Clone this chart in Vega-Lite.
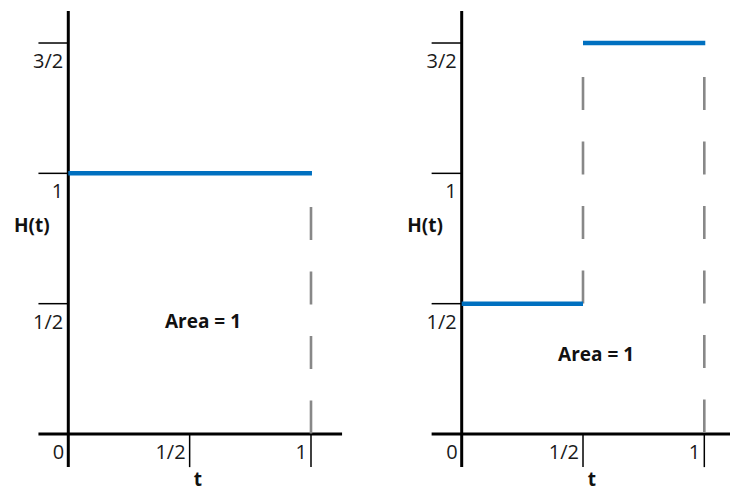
{
  "$schema": "https://vega.github.io/schema/vega-lite/v6.json",
  "padding": 0,
  "spacing": 0,
  "background": "white",
  "config": {"view": {"stroke": null}, "axis": {"disable": true}, "concat": {"spacing": 0}},
  "datasets": {
    "axes": [
      {"panel": "A", "x": 0, "x2": 0, "y": -0.127, "y2": 1.623},
      {"panel": "A", "x": -0.123, "x2": 1.128, "y": 0, "y2": 0},
      {"panel": "B", "x": 0, "x2": 0, "y": -0.127, "y2": 1.623},
      {"panel": "B", "x": -0.124, "x2": 1.11, "y": 0, "y2": 0}
    ],
    "ticks": [
      {"panel": "A", "x": -0.123, "x2": 0, "y": 0.5, "y2": 0.5},
      {"panel": "A", "x": -0.123, "x2": 0, "y": 1, "y2": 1},
      {"panel": "A", "x": -0.123, "x2": 0, "y": 1.5, "y2": 1.5},
      {"panel": "A", "x": 0.5, "x2": 0.5, "y": 0, "y2": -0.127},
      {"panel": "A", "x": 1, "x2": 1, "y": 0, "y2": -0.127},
      {"panel": "B", "x": -0.124, "x2": 0, "y": 0.5, "y2": 0.5},
      {"panel": "B", "x": -0.124, "x2": 0, "y": 1, "y2": 1},
      {"panel": "B", "x": -0.124, "x2": 0, "y": 1.5, "y2": 1.5},
      {"panel": "B", "x": 0.5, "x2": 0.5, "y": 0, "y2": -0.127},
      {"panel": "B", "x": 1, "x2": 1, "y": 0, "y2": -0.127}
    ],
    "steps": [
      {"panel": "A", "x": 0, "x2": 1.004, "y": 1, "y2": 1},
      {"panel": "B", "x": 0, "x2": 0.5, "y": 0.5, "y2": 0.5},
      {"panel": "B", "x": 0.5, "x2": 1.004, "y": 1.5, "y2": 1.5}
    ],
    "dashes": [
      {"panel": "A", "x": 1, "x2": 1, "y": 0.871, "y2": 0},
      {"panel": "B", "x": 0.5, "x2": 0.5, "y": 1.37, "y2": 0.49},
      {"panel": "B", "x": 1, "x2": 1, "y": 1.37, "y2": 0}
    ],
    "ylabels": [
      {"panel": "A", "x": 0, "y": 1.5, "label": "3/2"},
      {"panel": "A", "x": 0, "y": 1, "label": "1"},
      {"panel": "A", "x": 0, "y": 0.5, "label": "1/2"},
      {"panel": "B", "x": 0, "y": 1.5, "label": "3/2"},
      {"panel": "B", "x": 0, "y": 1, "label": "1"},
      {"panel": "B", "x": 0, "y": 0.5, "label": "1/2"}
    ],
    "xlabels": [
      {"panel": "A", "x": 0, "y": 0, "label": "0"},
      {"panel": "A", "x": 0.5, "y": 0, "label": "1/2"},
      {"panel": "A", "x": 1, "y": 0, "label": "1"},
      {"panel": "B", "x": 0, "y": 0, "label": "0"},
      {"panel": "B", "x": 0.5, "y": 0, "label": "1/2"},
      {"panel": "B", "x": 1, "y": 0, "label": "1"}
    ],
    "titles": [
      {"panel": "A", "x": -0.15, "y": 0.798, "label": "H(t)"},
      {"panel": "A", "x": 0.534, "y": -0.176, "label": "t"},
      {"panel": "A", "x": 0.555, "y": 0.43, "label": "Area = 1"},
      {"panel": "B", "x": -0.151, "y": 0.798, "label": "H(t)"},
      {"panel": "B", "x": 0.537, "y": -0.176, "label": "t"},
      {"panel": "B", "x": 0.554, "y": 0.303, "label": "Area = 1"}
    ]
  },
  "hconcat": [
    {
      "width": 365,
      "height": 493,
      "layer": [
        {"data": {"name": "axes"}, "transform": [{"filter": "datum.panel === 'A'"}], "mark": {"type": "rule", "color": "#000000", "strokeWidth": 3},
         "encoding": {"x": {"field": "x", "type": "quantitative", "scale": {"domain": [-0.2814, 1.2225], "nice": false, "zero": false}}, "x2": {"field": "x2"}, "y": {"field": "y", "type": "quantitative", "scale": {"domain": [-0.2263, 1.665], "nice": false, "zero": false}}, "y2": {"field": "y2"}}},
        {"data": {"name": "ticks"}, "transform": [{"filter": "datum.panel === 'A'"}], "mark": {"type": "rule", "color": "#000000", "strokeWidth": 1.5},
         "encoding": {"x": {"field": "x", "type": "quantitative"}, "x2": {"field": "x2"}, "y": {"field": "y", "type": "quantitative"}, "y2": {"field": "y2"}}},
        {"data": {"name": "dashes"}, "transform": [{"filter": "datum.panel === 'A'"}], "mark": {"type": "rule", "color": "#888888", "strokeWidth": 2.6, "strokeDash": [33, 31.5]},
         "encoding": {"x": {"field": "x", "type": "quantitative"}, "x2": {"field": "x2"}, "y": {"field": "y", "type": "quantitative"}, "y2": {"field": "y2"}}},
        {"data": {"name": "steps"}, "transform": [{"filter": "datum.panel === 'A'"}], "mark": {"type": "rule", "color": "#0070C0", "strokeWidth": 4.5},
         "encoding": {"x": {"field": "x", "type": "quantitative"}, "x2": {"field": "x2"}, "y": {"field": "y", "type": "quantitative"}, "y2": {"field": "y2"}}},
        {"data": {"name": "ylabels"}, "transform": [{"filter": "datum.panel === 'A'"}], "mark": {"type": "text", "align": "right", "baseline": "middle", "dx": -5, "dy": 19, "font": "Open Sans", "fontSize": 20, "color": "#1a1a1a"},
         "encoding": {"x": {"field": "x", "type": "quantitative"}, "y": {"field": "y", "type": "quantitative"}, "text": {"field": "label"}}},
        {"data": {"name": "xlabels"}, "transform": [{"filter": "datum.panel === 'A'"}], "mark": {"type": "text", "align": "right", "baseline": "middle", "dx": -4, "dy": 19, "font": "Open Sans", "fontSize": 20, "color": "#1a1a1a"},
         "encoding": {"x": {"field": "x", "type": "quantitative"}, "y": {"field": "y", "type": "quantitative"}, "text": {"field": "label"}}},
        {"data": {"name": "titles"}, "transform": [{"filter": "datum.panel === 'A'"}], "mark": {"type": "text", "align": "center", "baseline": "middle", "font": "Open Sans", "fontSize": 19, "fontWeight": "bold", "color": "#111111"},
         "encoding": {"x": {"field": "x", "type": "quantitative"}, "y": {"field": "y", "type": "quantitative"}, "text": {"field": "label"}}}
      ]
    },
    {
      "width": 365,
      "height": 493,
      "layer": [
        {"data": {"name": "axes"}, "transform": [{"filter": "datum.panel === 'B'"}], "mark": {"type": "rule", "color": "#000000", "strokeWidth": 3},
         "encoding": {"x": {"field": "x", "type": "quantitative", "scale": {"domain": [-0.3986, 1.1059], "nice": false, "zero": false}}, "x2": {"field": "x2"}, "y": {"field": "y", "type": "quantitative", "scale": {"domain": [-0.2263, 1.665], "nice": false, "zero": false}}, "y2": {"field": "y2"}}},
        {"data": {"name": "ticks"}, "transform": [{"filter": "datum.panel === 'B'"}], "mark": {"type": "rule", "color": "#000000", "strokeWidth": 1.5},
         "encoding": {"x": {"field": "x", "type": "quantitative"}, "x2": {"field": "x2"}, "y": {"field": "y", "type": "quantitative"}, "y2": {"field": "y2"}}},
        {"data": {"name": "dashes"}, "transform": [{"filter": "datum.panel === 'B'"}], "mark": {"type": "rule", "color": "#888888", "strokeWidth": 2.6, "strokeDash": [33, 31.5]},
         "encoding": {"x": {"field": "x", "type": "quantitative"}, "x2": {"field": "x2"}, "y": {"field": "y", "type": "quantitative"}, "y2": {"field": "y2"}}},
        {"data": {"name": "steps"}, "transform": [{"filter": "datum.panel === 'B'"}], "mark": {"type": "rule", "color": "#0070C0", "strokeWidth": 4.5},
         "encoding": {"x": {"field": "x", "type": "quantitative"}, "x2": {"field": "x2"}, "y": {"field": "y", "type": "quantitative"}, "y2": {"field": "y2"}}},
        {"data": {"name": "ylabels"}, "transform": [{"filter": "datum.panel === 'B'"}], "mark": {"type": "text", "align": "right", "baseline": "middle", "dx": -5, "dy": 19, "font": "Open Sans", "fontSize": 20, "color": "#1a1a1a"},
         "encoding": {"x": {"field": "x", "type": "quantitative"}, "y": {"field": "y", "type": "quantitative"}, "text": {"field": "label"}}},
        {"data": {"name": "xlabels"}, "transform": [{"filter": "datum.panel === 'B'"}], "mark": {"type": "text", "align": "right", "baseline": "middle", "dx": -4, "dy": 19, "font": "Open Sans", "fontSize": 20, "color": "#1a1a1a"},
         "encoding": {"x": {"field": "x", "type": "quantitative"}, "y": {"field": "y", "type": "quantitative"}, "text": {"field": "label"}}},
        {"data": {"name": "titles"}, "transform": [{"filter": "datum.panel === 'B'"}], "mark": {"type": "text", "align": "center", "baseline": "middle", "font": "Open Sans", "fontSize": 19, "fontWeight": "bold", "color": "#111111"},
         "encoding": {"x": {"field": "x", "type": "quantitative"}, "y": {"field": "y", "type": "quantitative"}, "text": {"field": "label"}}}
      ]
    }
  ],
  "resolve": {"scale": {"x": "independent", "y": "independent"}}
}
